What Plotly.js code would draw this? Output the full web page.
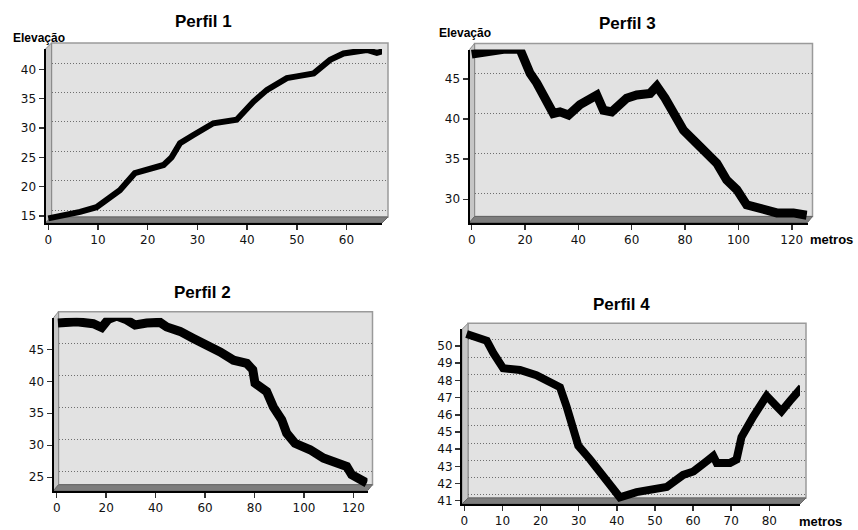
<!DOCTYPE html>
<html><head><meta charset="utf-8">
<script src="https://cdn.plot.ly/plotly-3.0.1.min.js"></script>
<style>html,body{margin:0;padding:0;background:#fff}</style>
</head><body><div id="chart" style="width:858px;height:530px"></div>
<script>
const titles = ['Perfil 1', 'Perfil 2', 'Perfil 3', 'Perfil 4'];
const yLabel = 'Elevação';
const xLabel = 'metros';

const p1Dist = [0, 3, 6.4, 9.7, 12, 14.4, 17.4, 19.8, 23.2, 24.8, 26.5, 29.2, 33.2, 37.9, 41.3, 44, 48, 50, 53.4, 56.7, 59.4, 64.1, 66.1, 67.8];
const p1Elev = [14.6, 15.1, 15.7, 16.5, 17.9, 19.4, 22.3, 22.8, 23.7, 25, 27.4, 28.8, 30.8, 31.4, 34.5, 36.5, 38.5, 38.8, 39.3, 41.6, 42.7, 43.3, 42.8, 43.2];

const p2Dist = [0.5, 8.1, 14.8, 18.2, 20.9, 24.3, 28.3, 31.7, 36.4, 41.8, 44.5, 49.9, 55.3, 60.7, 66.1, 71.5, 76.9, 79.3, 80.2, 84.9, 87.6, 91.0, 93.0, 96.4, 102.5, 107.9, 113.3, 117.3, 119.3, 124, 125.4];
const p2Elev = [49.1, 49.3, 49.0, 48.4, 49.7, 50.2, 49.6, 48.8, 49.1, 49.2, 48.5, 47.8, 46.7, 45.8, 44.6, 43.3, 42.8, 41.8, 39.7, 38.4, 36.0, 34.0, 31.9, 30.3, 29.3, 28.0, 27.2, 26.7, 25.4, 24.6, 24.1];

const p3Dist = [0, 5.6, 11.9, 18.1, 21.9, 24.4, 28.1, 30.6, 33.1, 36.3, 40.6, 44.4, 46.9, 49.4, 52.5, 58.1, 61.9, 66.9, 69.4, 72.5, 75.6, 79.4, 83.1, 88.1, 91.9, 95.6, 99.4, 103.1, 108.1, 114.4, 120.6, 125.6];
const p3Elev = [48.1, 48.4, 48.7, 48.7, 45.7, 44.5, 42.4, 40.7, 40.9, 40.5, 41.8, 42.6, 43.0, 41.1, 40.9, 42.6, 43.0, 43.2, 44.1, 42.6, 40.7, 38.6, 37.4, 35.9, 34.5, 32.4, 31.2, 29.3, 28.9, 28.3, 28.3, 28.0];

const p4Dist = [0.6, 5.9, 7.6, 10.2, 14.6, 18.9, 23.3, 25.1, 26.8, 28.6, 29.9, 33, 36.5, 40, 40.8, 45.2, 49.6, 53.1, 57.4, 60.1, 63.6, 65.3, 66.2, 69.7, 71.4, 72.7, 75.8, 79.3, 81.9, 83.2, 85.4, 88.5];
const p4Elev = [50.7, 50.3, 49.6, 48.7, 48.6, 48.3, 47.8, 47.6, 46.5, 45.3, 44.2, 43.4, 42.4, 41.4, 41.2, 41.5, 41.7, 41.8, 42.5, 42.7, 43.3, 43.6, 43.2, 43.2, 43.4, 44.7, 45.9, 47.1, 46.5, 46.2, 46.8, 47.6];

const W = 858, H = 530;
const fx = p => p / W;
const fy = p => 1 - p / H;

const panels = [
  {dist: p1Dist, elev: p1Elev, title: titles[0], L: 45.5, R: 388, T: 43, B: 223, dx: 6, dy: 6,
   xr: [-0.56, 67.14], yr: [13.81, 43.46], dtx: 10, dty: 5, lw: 6, tx: 203, ty: 22},
  {dist: p2Dist, elev: p2Elev, title: titles[1], L: 53.5, R: 372.5, T: 311.7, B: 490.7, dx: 5, dy: 6,
   xr: [-1.29, 125.7], yr: [22.9, 49.94], dtx: 20, dty: 5, lw: 9, tx: 202, ty: 292},
  {dist: p3Dist, elev: p3Elev, title: titles[2], L: 469.5, R: 812.5, T: 43.5, B: 222.5, dx: 5, dy: 6,
   xr: [-0.82, 125.9], yr: [27.1, 48.68], dtx: 20, dty: 5, lw: 9, tx: 627, ty: 24},
  {dist: p4Dist, elev: p4Elev, title: titles[3], L: 462, R: 806, T: 323.3, B: 504, dx: 6, dy: 6,
   xr: [-0.6, 88.05], yr: [40.81, 50.97], dtx: 10, dty: 1, lw: 8, tx: 621, ty: 304}
];

const tickFont = {family: 'DejaVu Sans, Verdana, sans-serif', size: 12, color: '#111'};
const layout = {
  width: W, height: H, margin: {l: 0, r: 0, t: 0, b: 0},
  paper_bgcolor: '#ffffff', plot_bgcolor: 'rgba(0,0,0,0)',
  showlegend: false, shapes: [], annotations: []
};
const traces = [];

panels.forEach((p, i) => {
  const g = i + 1, d = i + 5;
  // back wall grid axes
  layout['xaxis' + g] = {domain: [fx(p.L + p.dx), fx(p.R)], range: p.xr, anchor: 'y' + g,
    showgrid: false, zeroline: false, showline: false, ticks: '', showticklabels: false, fixedrange: true};
  layout['yaxis' + g] = {domain: [fy(p.B - p.dy), fy(p.T)], range: p.yr, anchor: 'x' + g,
    tick0: 0, dtick: p.dty, showgrid: true, gridcolor: '#6e6e6e', gridwidth: 1, griddash: '1px,2px',
    zeroline: false, showline: false, ticks: '', showticklabels: false, fixedrange: true};
  traces.push({x: [], y: [], type: 'scatter', mode: 'lines', xaxis: 'x' + g, yaxis: 'y' + g, hoverinfo: 'skip'});
  // front axes with data
  layout['xaxis' + d] = {domain: [fx(p.L), fx(p.R - p.dx)], range: p.xr, anchor: 'y' + d,
    tick0: 0, dtick: p.dtx, showgrid: false, zeroline: false, showline: true, linecolor: '#000', linewidth: 2,
    ticks: 'outside', ticklen: 5, tickwidth: 1.5, tickcolor: '#333', tickfont: tickFont, fixedrange: true};
  layout['yaxis' + d] = {domain: [fy(p.B), fy(p.T + p.dy)], range: p.yr, anchor: 'x' + d,
    tick0: 0, dtick: p.dty, showgrid: false, zeroline: false, showline: true, linecolor: '#000', linewidth: 2,
    ticks: 'outside', ticklen: 5, tickwidth: 1.5, tickcolor: '#333', tickfont: tickFont, fixedrange: true};
  traces.push({x: p.dist, y: p.elev, type: 'scatter', mode: 'lines', xaxis: 'x' + d, yaxis: 'y' + d,
    line: {color: '#000', width: p.lw}, cliponaxis: false, hoverinfo: 'x+y'});

  // 3D box decoration
  layout.shapes.push({type: 'rect', xref: 'paper', yref: 'paper', layer: 'below',
    x0: fx(p.L + p.dx), x1: fx(p.R), y0: fy(p.B - p.dy), y1: fy(p.T),
    fillcolor: '#e2e2e2', line: {color: '#9a9a9a', width: 1.5}});
  const pt = (x, y) => fx(x) + ',' + fy(y);
  layout.shapes.push({type: 'path', xref: 'paper', yref: 'paper', layer: 'below',
    path: 'M' + pt(p.L, p.B) + ' L' + pt(p.L, p.T + p.dy) + ' L' + pt(p.L + p.dx, p.T) + ' L' + pt(p.L + p.dx, p.B - p.dy) + ' Z',
    fillcolor: '#c6c6c6', line: {color: '#8c8c8c', width: 1}});
  layout.shapes.push({type: 'path', xref: 'paper', yref: 'paper', layer: 'below',
    path: 'M' + pt(p.L, p.B) + ' L' + pt(p.L + p.dx, p.B - p.dy) + ' L' + pt(p.R, p.B - p.dy) + ' L' + pt(p.R - p.dx, p.B) + ' Z',
    fillcolor: '#7d7d7d', line: {color: '#666666', width: 1}});

  layout.annotations.push({text: '<b>' + p.title + '</b>', xref: 'paper', yref: 'paper',
    x: fx(p.tx), y: fy(p.ty), xanchor: 'center', yanchor: 'middle', showarrow: false,
    font: {family: 'Liberation Sans, Arial, sans-serif', size: 17, color: '#000'}});
});

const labFont = {family: 'Liberation Sans, Arial, sans-serif', size: 12, color: '#000'};
layout.annotations.push({text: '<b>' + yLabel + '</b>', xref: 'paper', yref: 'paper', x: fx(11), y: fy(38),
  xanchor: 'left', yanchor: 'middle', showarrow: false, font: labFont});
layout.annotations.push({text: '<b>' + yLabel + '</b>', xref: 'paper', yref: 'paper', x: fx(437), y: fy(33),
  xanchor: 'left', yanchor: 'middle', showarrow: false, font: labFont});
const labFont2 = {family: 'Liberation Sans, Arial, sans-serif', size: 13, color: '#000'};
layout.annotations.push({text: '<b>' + xLabel + '</b>', xref: 'paper', yref: 'paper', x: fx(808), y: fy(239),
  xanchor: 'left', yanchor: 'middle', showarrow: false, font: labFont2});
layout.annotations.push({text: '<b>' + xLabel + '</b>', xref: 'paper', yref: 'paper', x: fx(797), y: fy(521),
  xanchor: 'left', yanchor: 'middle', showarrow: false, font: labFont2});

Plotly.newPlot('chart', traces, layout, {displayModeBar: false, staticPlot: true});
</script></body></html>
